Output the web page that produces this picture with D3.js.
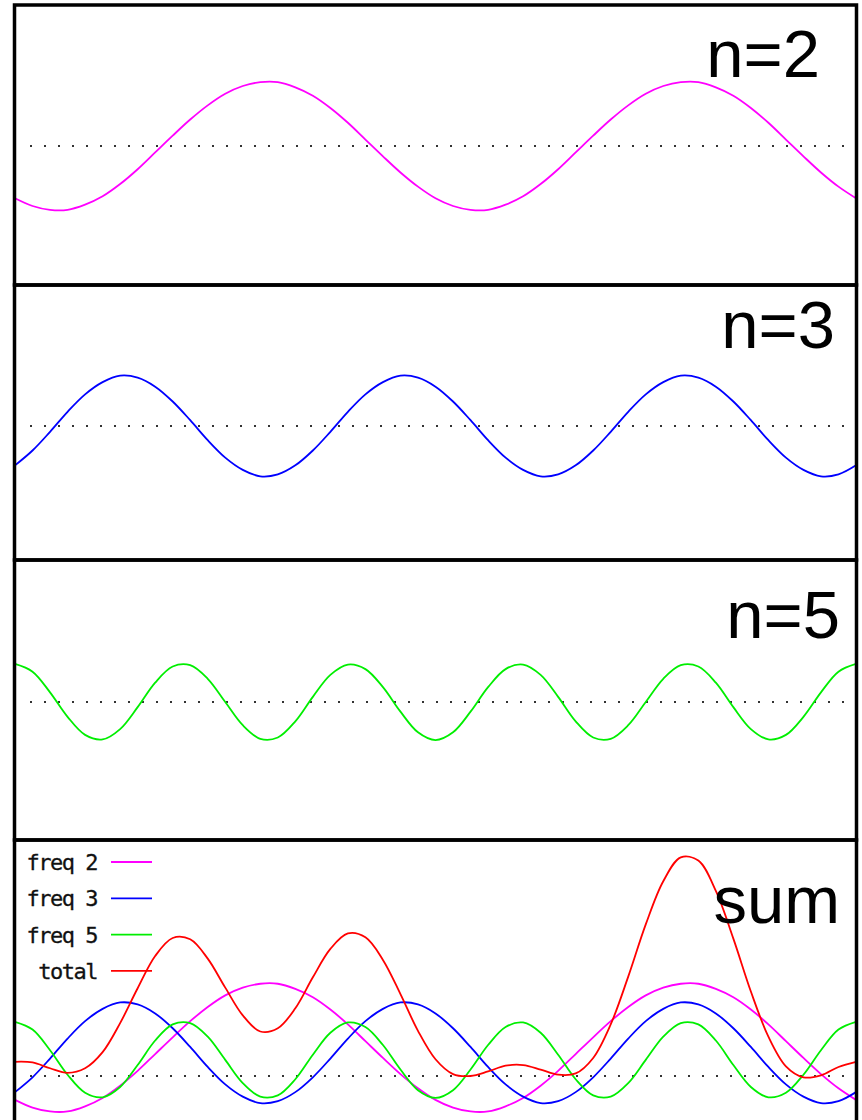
<!DOCTYPE html>
<html>
<head>
<meta charset="utf-8">
<script src="https://d3js.org/d3.v7.min.js"></script>
<style>
  body { margin: 0; background: #fff; }
</style>
</head>
<body>
<svg id="my_dataviz" width="862" height="1120"></svg>
<script>
// samples across the width (49 points, 0..48)
var freq2 = [-0.81,-0.93,-0.99,-0.99,-0.91,-0.78,-0.59,-0.36,-0.10,0.16,0.41,0.63,0.81,0.93,0.99,0.99,0.91,0.78,0.59,0.36,0.10,-0.16,-0.41,-0.63,
             -0.81,-0.93,-0.99,-0.99,-0.91,-0.78,-0.59,-0.36,-0.10,0.16,0.41,0.63,0.81,0.93,0.99,0.99,0.91,0.78,0.59,0.36,0.10,-0.16,-0.41,-0.63,-0.81];
var freq3 = [-0.61,-0.38,-0.09,0.22,0.49,0.68,0.78,0.75,0.61,0.38,0.09,-0.22,-0.49,-0.68,-0.78,-0.75,
             -0.61,-0.38,-0.09,0.22,0.49,0.68,0.78,0.75,0.61,0.38,0.09,-0.22,-0.49,-0.68,-0.78,-0.75,
             -0.61,-0.38,-0.09,0.22,0.49,0.68,0.78,0.75,0.61,0.38,0.09,-0.22,-0.49,-0.68,-0.78,-0.75,-0.61];
var freq5 = [0.59,0.47,0.15,-0.23,-0.51,-0.58,-0.42,-0.08,0.30,0.55,0.57,0.36,0.00,-0.36,-0.57,-0.55,-0.30,0.08,0.42,0.58,
             0.51,0.23,-0.15,-0.47,-0.59,-0.47,-0.15,0.23,0.51,0.58,0.42,0.08,-0.30,-0.55,-0.57,-0.36,0.00,0.36,0.57,0.55,
             0.30,-0.08,-0.42,-0.58,-0.51,-0.23,0.15,0.47,0.59];

// the sum panel (curves sit a bit higher there)
var sum2 = [-0.37,-0.49,-0.55,-0.55,-0.47,-0.34,-0.15,0.08,0.34,0.60,0.85,1.07,1.25,1.37,1.43,1.43,1.35,1.22,1.03,0.80,0.54,0.28,0.03,-0.19,
            -0.37,-0.49,-0.55,-0.55,-0.47,-0.34,-0.15,0.08,0.34,0.60,0.85,1.07,1.25,1.37,1.43,1.43,1.35,1.22,1.03,0.80,0.54,0.28,0.03,-0.19,-0.37];
var sum3 = [-0.25,-0.02,0.27,0.58,0.85,1.04,1.14,1.11,0.97,0.74,0.45,0.14,-0.13,-0.32,-0.42,-0.39,
            -0.25,-0.02,0.27,0.58,0.85,1.04,1.14,1.11,0.97,0.74,0.45,0.14,-0.13,-0.32,-0.42,-0.39,
            -0.25,-0.02,0.27,0.58,0.85,1.04,1.14,1.11,0.97,0.74,0.45,0.14,-0.13,-0.32,-0.42,-0.39,-0.25];
var sum5 = [0.84,0.72,0.40,0.02,-0.26,-0.33,-0.17,0.17,0.55,0.80,0.82,0.61,0.25,-0.11,-0.32,-0.30,-0.05,0.33,0.67,0.83,
            0.76,0.48,0.10,-0.22,-0.34,-0.22,0.10,0.48,0.76,0.83,0.67,0.33,-0.05,-0.30,-0.32,-0.11,0.25,0.61,0.82,0.80,
            0.55,0.17,-0.17,-0.33,-0.26,0.02,0.40,0.72,0.84];
var total = [0.22,0.21,0.12,0.05,0.12,0.37,0.82,1.36,1.86,2.14,2.12,1.82,1.37,0.94,0.69,0.74,1.05,1.53,1.97,2.21,
             2.15,1.80,1.27,0.70,0.26,0.03,0.00,0.07,0.16,0.17,0.10,0.02,0.04,0.28,0.80,1.54,2.35,3.02,3.39,3.34,
             2.87,2.13,1.31,0.61,0.15,-0.02,0.01,0.14,0.22];

var panelLabels = ["n=2", "n=3", "n=5", "sum"];
var legendLabels = ["freq 2", "freq 3", "freq 5", "total"];
var colors = ["#ff00ff", "#0000ff", "#00ee00", "#ff0000"];

var svg = d3.select("svg");

// panel boxes
var panels = [
  { top: 5,   h: 280, zero: 146,  series: [freq2], col: [0] },
  { top: 285, h: 275, zero: 426,  series: [freq3], col: [1] },
  { top: 560, h: 280, zero: 702,  series: [freq5], col: [2] },
  { top: 840, h: 310, zero: 1076, series: [sum2, sum3, sum5, total], col: [0, 1, 2, 3] }
];
var labelPos = [[820, 77], [835, 348], [840, 638], [840, 923]];

var x = d3.scaleLinear().domain([0, 48]).range([15, 856]);

panels.forEach(function (p, k) {
    var g = svg.append("g");
    var y = d3.scaleLinear().domain([0, 1]).range([p.zero, p.zero - 64.5]);

    // zero line
    g.append("line")
        .attr("x1", 30).attr("x2", 846)
        .attr("y1", y(0)).attr("y2", y(0))
        .attr("stroke", "#333")
        .attr("stroke-width", 2)
        .attr("stroke-dasharray", "2,12");

    var line = d3.line()
        .x(function (d, i) { return x(i) })
        .y(function (d) { return y(d) })
        .curve(d3.curveCatmullRom);

    p.series.forEach(function (s, j) {
        g.append("path")
            .attr("d", line(s))
            .attr("fill", "none")
            .attr("stroke", colors[p.col[j]])
            .attr("stroke-width", 1.8);
    })

    g.append("text")
        .attr("x", labelPos[k][0]).attr("y", labelPos[k][1])
        .attr("text-anchor", "end")
        .style("font-family", "'Liberation Sans', Arial, sans-serif")
        .style("font-size", "67px")
        .text(panelLabels[k]);
})

// frames on top
svg.append("g")
    .selectAll("rect")
    .data(panels)
    .enter()
    .append("rect")
    .attr("x", 14.5).attr("y", function (p) { return p.top })
    .attr("width", 842).attr("height", function (p) { return p.h })
    .attr("fill", "none")
    .attr("stroke", "#000")
    .attr("stroke-width", 3.5);

// legend in the sum panel
var leg = svg.append("g");
legendLabels.forEach(function (l, i) {
    var yy = 862 + i * 36.3;
    leg.append("text")
        .attr("x", 97).attr("y", yy + 8)
        .attr("text-anchor", "end")
        .style("font-family", "'DejaVu Sans Mono', monospace")
        .style("font-size", "22px")
        .style("letter-spacing", "-1.5px")
        .style("fill", "#111")
        .style("stroke", "#111")
        .style("stroke-width", 0.3)
        .text(l);
    leg.append("line")
        .attr("x1", 111).attr("x2", 152)
        .attr("y1", yy).attr("y2", yy)
        .attr("stroke", colors[i])
        .attr("stroke-width", 1.8);
})
</script>
</body>
</html>
